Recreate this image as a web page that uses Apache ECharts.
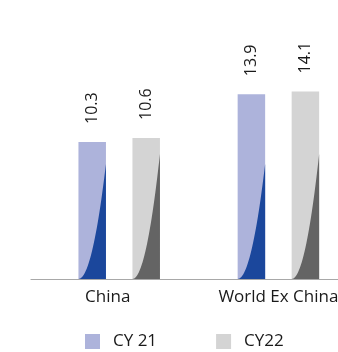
<!DOCTYPE html>
<html>
<head>
<meta charset="utf-8">
<script src="https://cdn.jsdelivr.net/npm/echarts@6/dist/echarts.min.js"></script>
<style>
html,body{margin:0;padding:0;background:#fff;}
#c{width:338px;height:352px;}
</style>
</head>
<body>
<div id="c"></div>
<script>
const categories = ['China', 'World Ex China'];
const seriesNames = ['CY 21', 'CY22'];
const cy21 = [10.3, 13.9];
const cy22 = [10.6, 14.1];

const FONT = '"Open Sans", "Liberation Sans", sans-serif';
const BAR_W = 27.5;

function makeRender(offset, light, dark, darkH) {
  return function (params, api) {
    const idx = api.value(0);
    const v = api.value(1);
    const base = api.coord([idx, 0]);
    const top = api.coord([idx, v]);
    const cx = top[0] + offset;
    const x0 = cx - BAR_W / 2;
    const x1 = cx + BAR_W / 2;
    const h = base[1] - top[1];
    const dh = Math.min(darkH, h);
    const pts = [];
    const N = 30;
    for (let i = 0; i <= N; i++) {
      const t = i / N;
      pts.push([x0 + t * BAR_W, base[1] - dh * t * t]);
    }
    pts.push([x1, base[1]]);
    return {
      type: 'group',
      children: [
        { type: 'rect', shape: { x: x0, y: top[1], width: BAR_W, height: h }, style: { fill: light } },
        { type: 'polygon', shape: { points: pts }, style: { fill: dark } },
        {
          type: 'text', x: cx, y: top[1] - 18, rotation: Math.PI / 2,
          style: { text: v.toFixed(1), fill: '#1a1a1a', font: '16px ' + FONT, textAlign: 'left', textVerticalAlign: 'middle' }
        }
      ]
    };
  };
}

const chart = echarts.init(document.getElementById('c'), null, { renderer: 'canvas' });
chart.setOption({
  animation: false,
  backgroundColor: '#ffffff',
  legend: {
    left: 85, top: 333, padding: 0,
    itemWidth: 15, itemHeight: 15, itemGap: 59,
    icon: 'rect',
    textStyle: { fontFamily: FONT, fontSize: 17, color: '#1a1a1a', padding: [0, 0, 0, 8] },
    data: seriesNames
  },
  grid: [
    { left: 39.6, top: 13, width: 318.4, height: 266, outerBoundsMode: 'none', containLabel: false },
    { left: 31, top: 13, width: 340, height: 266, outerBoundsMode: 'none', containLabel: false }
  ],
  xAxis: [
    {
      type: 'category', data: categories, gridIndex: 0,
      axisLine: { show: false }, axisTick: { show: false },
      axisLabel: {
        margin: 10, fontFamily: FONT, fontSize: 17, color: '#1a1a1a', interval: 0,
        formatter: function (v) { return v === 'China' ? '{l|' + v + '}' : v; },
        rich: { l: { fontFamily: FONT, fontSize: 17, color: '#1a1a1a', padding: [0, 23, 0, 0] } }
      }
    },
    {
      type: 'value', gridIndex: 1, min: 0, max: 1,
      axisLine: { show: true, lineStyle: { color: '#a8a8a8', width: 1.2 } },
      axisTick: { show: false }, axisLabel: { show: false }, splitLine: { show: false }
    }
  ],
  yAxis: [
    { type: 'value', gridIndex: 0, min: 0, max: 20, show: false },
    { type: 'value', gridIndex: 1, min: 0, max: 1, show: false }
  ],
  series: [
    {
      name: seriesNames[0], type: 'custom', xAxisIndex: 0, yAxisIndex: 0,
      itemStyle: { color: '#adb3db' },
      renderItem: makeRender(-27, '#adb3db', '#1b479c', 115),
      encode: { x: 0, y: 1 },
      data: cy21.map((v, i) => [i, v])
    },
    {
      name: seriesNames[1], type: 'custom', xAxisIndex: 0, yAxisIndex: 0,
      itemStyle: { color: '#d4d4d4' },
      renderItem: makeRender(27, '#d4d4d4', '#646464', 125),
      encode: { x: 0, y: 1 },
      data: cy22.map((v, i) => [i, v])
    }
  ]
});
</script>
</body>
</html>
